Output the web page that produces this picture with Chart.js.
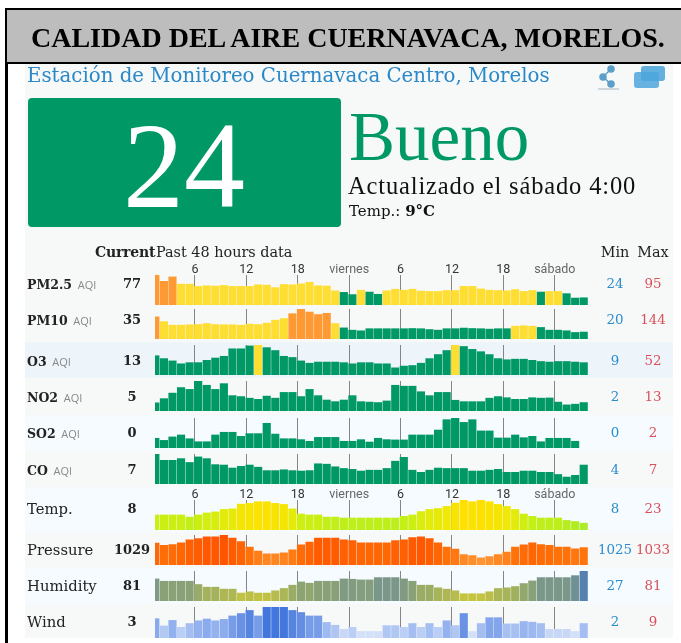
<!DOCTYPE html>
<html lang="es">
<head>
<meta charset="utf-8">
<title>Calidad del aire Cuernavaca</title>
<script src="https://cdn.jsdelivr.net/npm/chart.js@4"></script>
<style>
  html, body { margin: 0; padding: 0; background: #fff; }
  #page { position: relative; width: 681px; height: 643px; overflow: hidden; font-family: "DejaVu Serif", serif; color: #222; filter: blur(.35px); }
  #page div, #page span.abs, #page canvas, #page svg { position: absolute; }
  .t { white-space: nowrap; line-height: 1; }
  .lbl { left: 27px; font-size: 14.8px; }
  .lbl b { font-size: 12.5px; }
  .lbl i { font: normal 11px "Open Sans", sans-serif; color: #888; margin-left: 1px; }
  .cur { width: 60px; left: 102px; text-align: center; font-size: 13px; font-weight: bold; }
  .min, .max { width: 50px; text-align: center; font-size: 13.4px; }
  .min { left: 590px; color: #2a8ccf; }
  .max { left: 628px; color: #d9505a; }
</style>
</head>
<body>
<div id="page"></div>
<script>
// ---- tick labels along the 48 hour axis (positions in bar units)
const tickHours = [4.62, 10.62, 16.62, 22.62, 28.62, 34.62, 40.62, 46.62];
const tickNames = ["6", "12", "18", "viernes", "6", "12", "18", "sábado"];

// ---- hourly series
const pm25 = [95,76,90,67,67,60,62,61,63,60,60,60,65,64,56,66,65,68,73,62,61,46,41,34,48,42,35,46,51,48,51,45,44,44,47,47,60,60,52,48,47,46,50,44,47,42,44,44,37,23,24];
const pm10 = [108,85,68,68,70,71,76,71,70,70,68,73,71,78,92,100,123,144,131,119,125,76,55,44,41,51,51,51,51,51,52,51,47,44,51,51,54,52,51,49,51,51,63,65,63,57,44,44,41,33,35];
const o3 = [34,29,25,20,22,22,26,30,33,46,46,51,52,48,43,33,31,25,21,23,23,23,22,20,22,22,20,20,13,16,17,21,29,36,43,52,50,45,41,36,29,27,28,28,26,24,23,24,24,23,22];
const no2 = [3.7,5.5,7.9,10.3,9.5,13,11.3,9.5,12,6.8,6.4,5.7,5.2,6.6,5.7,8.2,8.2,6.4,9.5,6.8,4.9,4.2,4.9,6.8,4.2,4,3.8,4.5,11.3,10.9,10.9,8.5,6.8,8.2,8.2,4.8,4.2,4.2,4.2,5.7,6.4,5.9,5.2,5.2,5.9,5.7,5.8,4,2.8,3.1,3.8];
const so2 = [.67,.53,.76,.89,.64,.44,.44,.89,1.07,1.07,.8,.98,.98,1.67,.95,.64,.64,.58,.47,.73,.73,.73,.47,.47,.58,.42,.67,.58,.56,.56,.89,.89,.89,1.22,1.91,2,1.73,1.91,1.16,1.16,.69,.69,.89,.71,.8,.44,.67,.67,.67,.47,0];
const co = [7,5.6,5.6,6,5.1,6.4,6,4.6,4.5,3.8,4.2,4.5,4,3.2,3.2,3.4,3.2,3.1,3.2,4.8,4.7,4.1,3.7,3.5,3.1,3.3,3.3,3.7,5.4,6.3,3.3,2.8,3.3,3.8,3.7,3.7,3.7,3.1,3.1,3.3,3.5,2.8,2.8,3.1,3.1,2.8,2.8,2.3,1.7,2.1,4.5];
const temp = [13.4,13.4,13.4,13.4,12,13.4,14.7,15.4,17,17.4,20.5,21,22.1,22.1,21,20.3,17.4,14,13.4,13.4,12,12,11.4,11.4,11.4,11.4,11.4,11.4,11.4,12.5,13.4,15.6,17,17.6,19,21.2,23,22.1,23,22.1,20.3,19,17,14,12.5,11.4,11.4,11.4,9.8,9.1,8];
const pressure = [1030.2,1029.4,1029.7,1030.3,1031.4,1031.8,1032.5,1032.5,1033,1032,1030.8,1028.8,1027.4,1026.4,1026.4,1026.8,1027.8,1029.6,1030.6,1032,1032,1032,1031.4,1031.1,1030.3,1030.3,1030.3,1030.3,1031.1,1031.4,1032.2,1032.5,1031.8,1030.3,1028.8,1028.1,1026.1,1025.8,1025,1025.4,1026.1,1027,1028.8,1029.6,1030.3,1029.7,1029.4,1028.8,1028.8,1028.2,1028.6];
const humidity = [62.7,57.1,57.1,57.1,57.1,49.2,42.8,42.8,38.1,38.1,28.6,31.7,28.6,28.6,34.1,39.7,47.6,55.5,52.4,57.1,57.1,57.1,62.7,61.9,60.3,60.3,65.9,65.9,65.9,62.7,57.1,47.6,47.6,41.3,38.1,34.1,27,27,27,31.7,39.7,41.3,44.4,51.6,57.9,65.9,65.9,65.9,65.9,70.6,81];
const wind = [5.7,3.6,5.2,3.2,4.3,5.1,5.6,5.1,5.5,6.5,7.2,8.1,6.5,9,9,9,8.1,7.5,6.5,6.5,4.6,3.8,2.6,3.2,2,2,2,3.7,3.7,3.2,4.3,3.2,4.3,3.2,5.1,3.7,7.2,2,4.3,6,6,4.2,4.2,4.9,4.7,4.3,2.6,2.6,2.6,2,4.3];

// ---- what each row prints
const rowNames = ["PM2.5", "PM10", "O3", "NO2", "SO2", "CO", "Temp.", "Pressure", "Humidity", "Wind"];
const currentVals = [77, 35, 13, 5, 0, 7, 8, 1029, 81, 3];
const minVals = [24, 20, 9, 2, 0, 4, 8, 1025, 27, 2];
const maxVals = [95, 144, 52, 13, 2, 7, 23, 1033, 81, 9];

const AQI = { good: "#009966", moderate: "#ffde33", poor: "#ff9933" };
const aqiColor = (lo, hi) => v => v >= hi ? AQI.poor : v >= lo ? AQI.moderate : AQI.good;

// piecewise colour ramp over value stops
function ramp(stops) {
  return v => {
    let i = 0;
    while (i < stops.length - 2 && v > stops[i + 1][0]) i++;
    const [a, ca] = stops[i], [b, cb] = stops[i + 1];
    const t = Math.max(0, Math.min(1, (v - a) / (b - a)));
    return `rgb(${ca.map((c, n) => Math.round(c + (cb[n] - c) * t)).join(",")})`;
  };
}

const rows = [
  { data: pm25, top: 275, ax: [0, 95], aqi: 1, color: aqiColor(43, 75), labels: true, y: 284, bg: "#f7f9f9" },
  { data: pm10, top: 309, ax: [0, 144], aqi: 1, color: aqiColor(60, 105), y: 320, bg: "#f7f9f9" },
  { data: o3, top: 345, ax: [0, 52], aqi: 1, color: aqiColor(51.5, 999), y: 361, bg: "#edf5fb" },
  { data: no2, top: 381, ax: [0, 13], aqi: 1, color: aqiColor(999, 999), y: 397, bg: "#f7f9f9" },
  { data: so2, top: 418, ax: [0, 2], aqi: 1, color: aqiColor(999, 999), y: 433, bg: "#f5fbff" },
  { data: co, top: 454, ax: [0, 7], aqi: 1, color: aqiColor(999, 999), y: 470, bg: "#f7f9f9" },
  { data: temp, top: 500, ax: [3.3, 23], labels: true, y: 509, bg: "#f5fbff",
    color: ramp([[8, [172, 236, 40]], [13, [200, 240, 20]], [19, [240, 232, 5]], [23, [255, 224, 0]]]) },
  { data: pressure, top: 535, ax: [1022.3, 1033], y: 550, bg: "#f7f9f9",
    color: ramp([[1025, [255, 148, 48]], [1029, [255, 112, 8]], [1033, [255, 85, 0]]]) },
  { data: humidity, top: 571, ax: [8.7, 81], y: 586, bg: "#f5fbff",
    color: ramp([[27, [196, 196, 64]], [50, [150, 170, 105]], [65, [125, 152, 135]], [81, [85, 128, 176]]]) },
  { data: wind, top: 607, ax: [0, 9], y: 622, bg: "#f7f9f9",
    color: ramp([[2, [212, 224, 248]], [5, [150, 180, 240]], [9, [68, 119, 221]]]) },
];

const page = document.getElementById("page");
function add(tag, css, html, cls) {
  const el = document.createElement(tag);
  el.style.cssText = css;
  if (html != null) el.innerHTML = html;
  if (cls) el.className = cls;
  page.appendChild(el);
  return el;
}

// ---- frame, header, top panel
add("div", "left:25px;top:64px;width:648px;height:574px;background:#f7f9f9");
add("div", "left:5px;top:8px;width:676px;height:2px;background:#000");
add("div", "left:5px;top:8px;width:2.5px;height:635px;background:#000");
add("div", "left:7px;top:10px;width:674px;height:52px;background:#bdbdbd");
add("div", "left:7px;top:62px;width:674px;height:2px;background:#000");
add("div", "left:31px;top:22px;font:bold 28px 'Liberation Serif',serif;color:#000", "CALIDAD DEL AIRE CUERNAVACA, MORELOS.", "t");
add("div", "left:27px;top:66px;font-size:19.8px;color:#2b88c8", "Estación de Monitoreo Cuernavaca Centro, Morelos", "t");
add("div", "left:27.5px;top:98px;width:313px;height:129px;background:#009966;border-radius:4px");
add("div", "left:27.5px;top:98px;width:313px;height:129px;text-align:center;font:122px/135px 'Liberation Serif',serif;color:#fff", "24", "t");
add("div", "left:349px;top:98px;font:69px 'Liberation Serif',serif;color:#009966", "Bueno", "t");
add("div", "left:348px;top:172px;font:24.5px 'Liberation Serif',serif;letter-spacing:.85px;color:#111", "Actualizado el sábado 4:00", "t");
add("div", "left:349px;top:204px;font-size:15px;color:#111", "Temp.: <b>9°C</b>", "t");

// share and windows icons
add("div", `left:595px;top:65px;width:75px;height:26px`,
  `<svg width="75" height="26" style="left:0;top:0"><g fill="#5b9fc8" stroke="#5b9fc8" stroke-width="1.5">
   <line x1="16" y1="4" x2="8" y2="12"/><line x1="8" y1="12" x2="16" y2="19"/>
   <circle cx="16" cy="4" r="3"/><circle cx="8" cy="12" r="3"/><circle cx="16" cy="19" r="3"/></g>
   <rect x="3" y="23" width="21" height="2" fill="#cfd8dc"/>
   <rect x="46" y="1" width="24" height="15" rx="3" fill="#62b0de"/>
   <rect x="39" y="7" width="25" height="16" rx="3" fill="#4ea6dc" opacity=".85"/></svg>`);

// ---- rows: stripe, text, one small bar chart each
rows.forEach((r, i) => {
  const stripeTop = i === 0 ? 240 : i === 6 ? 487 : rows[i].top - 3;
  const stripeEnd = i === 9 ? 638 : i === 5 ? 487 : rows[i + 1].top - 3;
  add("div", `left:25px;top:${stripeTop}px;width:648px;height:${stripeEnd - stripeTop}px;background:${r.bg}`);
  const name = r.aqi ? `<b>${rowNames[i]}</b> <i>AQI</i>` : rowNames[i];
  add("div", `top:${r.y - 7}px`, name, "t lbl");
  add("div", `top:${r.y - 7}px`, currentVals[i], "t cur");
  add("div", `top:${r.y - 7}px`, minVals[i], "t min");
  add("div", `top:${r.y - 7}px`, maxVals[i], "t max");

  const labelH = r.labels ? 16 : 0;
  const h = (i === 9 ? 31 : 30) + labelH;
  const cv = add("canvas", `left:155px;top:${r.top - labelH}px`);
  cv.width = 433; cv.height = h;
  new Chart(cv, {
    type: "bar",
    data: { datasets: [{
      data: r.data.map((v, k) => ({ x: k, y: v })),
      backgroundColor: r.data.map(r.color),
      categoryPercentage: 1, barPercentage: 0.95,
    }] },
    options: {
      responsive: false, animation: false,
      layout: { padding: 0 },
      plugins: { legend: { display: false }, tooltip: { enabled: false } },
      scales: {
        x: {
          type: "linear", min: -0.04, max: 50.5, offset: false, position: r.labels ? "top" : "bottom",
          border: { display: false },
          grid: { offset: false, color: "#858585", lineWidth: 1, drawTicks: false, tickLength: 0 },
          afterBuildTicks: ax => { ax.ticks = tickHours.map(v => ({ value: v })); },
          afterFit: ax => { ax.height = labelH; },
          ticks: {
            display: !!r.labels, autoSkip: false, maxRotation: 0, padding: -2,
            font: { family: "Roboto", size: 12.5 },
            color: c => tickNames[c.index].length > 2 ? "#666" : "#333",
            callback: (v, idx) => tickNames[idx],
          },
        },
        y: { display: false, min: r.ax[0], max: r.ax[1] },
      },
    },
  });
});

// ---- column heads
add("div", "left:95px;top:245px;font-size:14px;font-weight:bold;letter-spacing:-.2px", "Current", "t");
add("div", "left:156px;top:245px;font-size:14.4px", "Past 48 hours data", "t");
add("div", "left:590px;top:245px;width:50px;text-align:center;font-size:14.4px", "Min", "t");
add("div", "left:628px;top:245px;width:50px;text-align:center;font-size:14.4px", "Max", "t");
</script>
</body>
</html>
